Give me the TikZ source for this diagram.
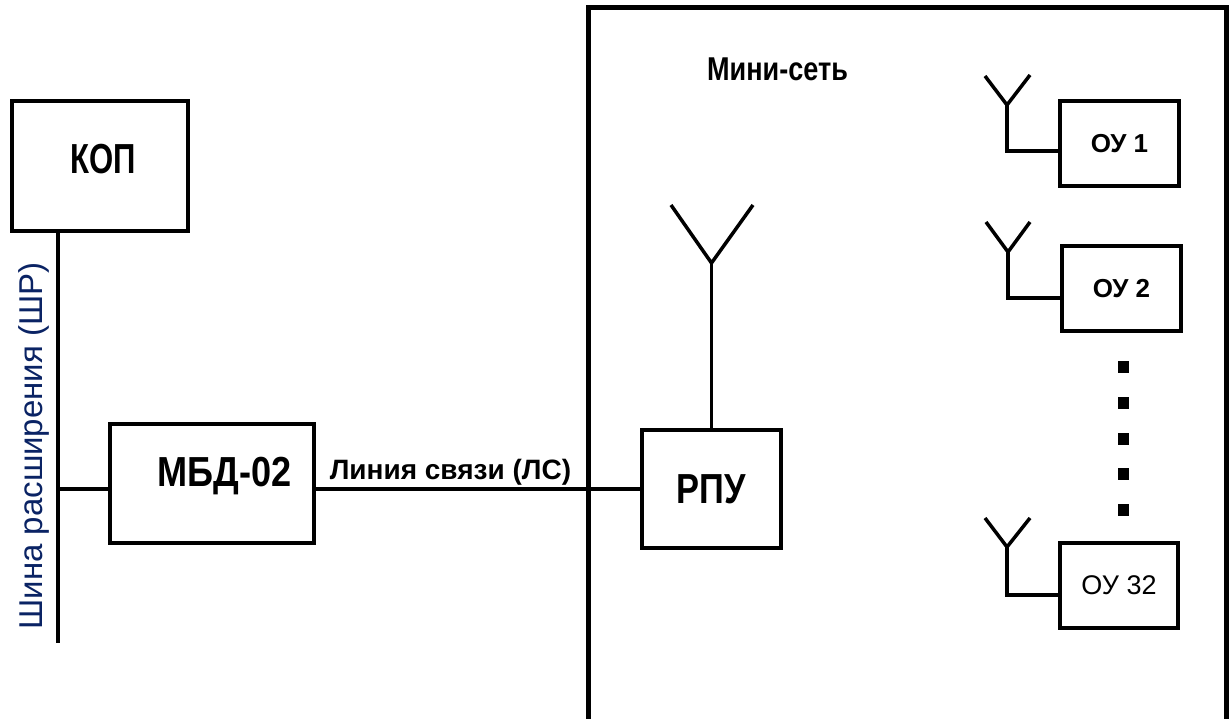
\documentclass[tikz,border=0pt]{standalone}
\usepackage{fontspec}
\setmainfont{Liberation Sans}
\usepackage{graphicx}
\usepackage{tikz}
\usetikzlibrary{positioning, calc}
\definecolor{busblue}{RGB}{10,35,100}
\newcommand{\squeeze}[2]{\scalebox{#1}[1]{#2}}
\tikzset{
  unit/.style={rectangle, draw, line width=4pt, inner sep=0pt},
  bigtext/.style={font=\bfseries\fontsize{42}{46}\selectfont},
  subunit/.style={unit, minimum width=119pt, minimum height=85pt,
    font=\fontsize{27}{31}\selectfont},
  wire/.style={line width=3.5pt},
  bus/.style={line width=4.5pt},
  aerial/.style={line width=3.5pt, line join=miter},
  netframe/.style={line width=5pt},
}
\begin{document}
\begin{tikzpicture}[x=1pt, y=-1pt]
  \useasboundingbox (0,0) rectangle (1229,719);

  % host side
  \node[unit, minimum width=176pt, minimum height=130pt,
        label={[bigtext, xshift=3pt, yshift=7pt]center:\squeeze{0.74}{КОП}}]
        (kop) at (100,166) {};
  \node[unit, minimum width=204pt, minimum height=119pt,
        label={[bigtext, xshift=12.5pt, yshift=7.5pt]center:\squeeze{0.86}{МБД-02}}]
        (mbd) at (212,483.5) {};
  \coordinate (busend) at (58,643);
  \coordinate (tap) at (58,489);
  \draw[bus] (kop.south -| busend) -- (busend);
  \draw[wire] (tap) -- (tap -| mbd.west);
  \node[rotate=90, anchor=base, text=busblue, font=\fontsize{33}{36}\selectfont]
        (bustext) at (42,446) {Шина расширения (ШР)};

  % mini network
  \draw[netframe] (588.5,725) |- (1226.5,7.5) -- (1226.5,725);
  \node[bigtext, font=\bfseries\fontsize{33}{36}\selectfont] (mini) at (777.5,69.5)
        {\squeeze{0.82}{Мини-сеть}};

  \node[unit, bigtext, minimum width=139pt, minimum height=118pt]
        (rpu) at (711.5,489) {\squeeze{0.82}{РПУ}};
  \draw[wire] (mbd.east |- rpu.west) -- (rpu.west)
    node[pos=0.415, above=2pt, inner sep=0pt,
         font=\bfseries\fontsize{28}{32}\selectfont] (lstext) {Линия связи (ЛС)};

  \coordinate (rpu-ant) at (711.5,263);
  \draw[wire] (rpu.north) -- (rpu-ant);
  \draw[aerial] (671,205) -- (rpu-ant) -- (753,205);

  % end devices
  \node[subunit, font=\bfseries\fontsize{26}{30}\selectfont] (ou1) at (1119.5,143.5) {ОУ 1};
  \node[subunit, font=\bfseries\fontsize{26}{30}\selectfont] (ou2) at (1121.5,289) {ОУ 2};
  \node[subunit, minimum width=118pt] (ou32) at (1119,585.5) {ОУ 32};

  \coordinate (ou1-ant) at (1007,105);
  \coordinate (ou2-ant) at (1008,252);
  \coordinate (ou32-ant) at (1007,547);
  \draw[aerial] (985,76) -- (ou1-ant) -- (1030,75);
  \draw[aerial] (986,222) -- (ou2-ant) -- (1030,222);
  \draw[aerial] (985,518) -- (ou32-ant) -- (1030,518);
  \draw[wire] (ou1-ant) |- ([yshift=-7.5pt]ou1.west);
  \draw[wire] (ou2-ant) |- ([yshift=-9pt]ou2.west);
  \draw[wire] (ou32-ant) |- ([yshift=-9.5pt]ou32.west);

  % dots between ОУ 2 and ОУ 32
  \foreach \k in {0,...,4}
    \fill (1118,361+35.8*\k) rectangle ++(11,12);
\end{tikzpicture}
\end{document}
